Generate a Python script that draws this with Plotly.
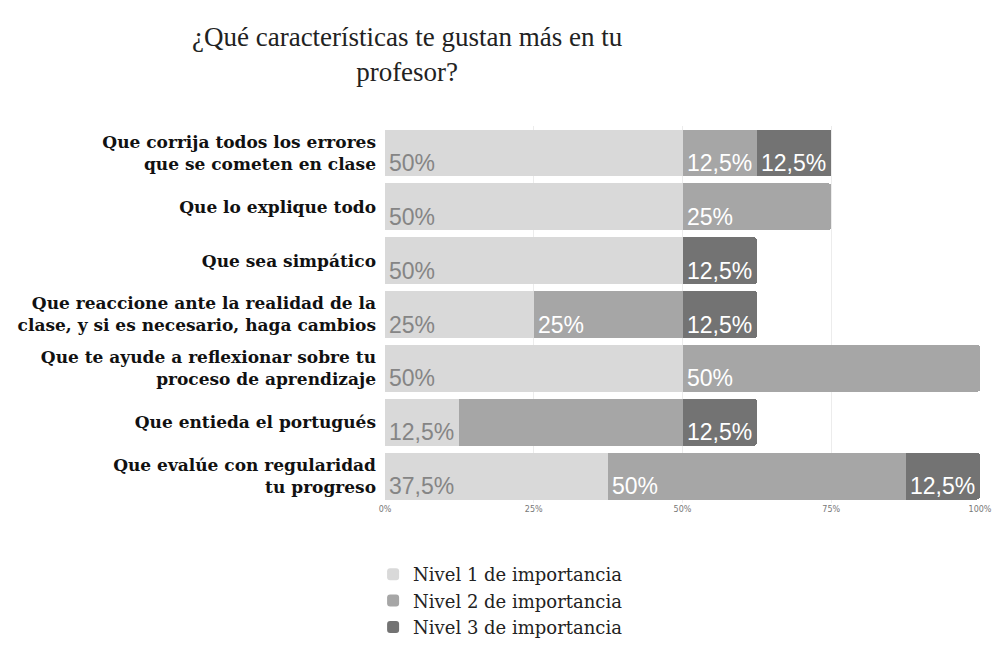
import plotly.graph_objects as go

categories = [
    "Que corrija todos los errores<br>que se cometen en clase",
    "Que lo explique todo",
    "Que sea simpático",
    "Que reaccione ante la realidad de la<br>clase, y si es necesario, haga cambios",
    "Que te ayude a reflexionar sobre tu<br>proceso de aprendizaje",
    "Que entieda el portugués",
    "Que evalúe con regularidad<br>tu progreso",
]
nivel1 = [50, 50, 50, 25, 50, 12.5, 37.5]
nivel2 = [12.5, 25, 0, 25, 50, 37.5, 50]
nivel3 = [12.5, 0, 12.5, 12.5, 0, 12.5, 12.5]
labels1 = ["50%", "50%", "50%", "25%", "50%", "12,5%", "37,5%"]
labels2 = ["12,5%", "25%", "", "25%", "50%", "", "50%"]
labels3 = ["12,5%", "", "12,5%", "12,5%", "", "12,5%", "12,5%"]
series_names = ["Nivel 1 de importancia", "Nivel 2 de importancia", "Nivel 3 de importancia"]
tick_vals = [0, 25, 50, 75, 100]
tick_text = ["0%", "25%", "50%", "75%", "100%"]
title_text = "¿Qué características te gustan más en tu<br>profesor?"

colors = ["#d9d9d9", "#a6a6a6", "#737373"]
label_colors = ["#858585", "#ffffff", "#ffffff"]
LABEL_FONT = "Liberation Sans Narrow, Liberation Sans, Arial, sans-serif"

fig = go.Figure()
series = [nivel1, nivel2, nivel3]
labels = [labels1, labels2, labels3]
for name, vals, col in zip(series_names, series, colors):
    fig.add_trace(go.Bar(
        y=categories, x=vals, orientation="h", name=name,
        marker=dict(color=col, line=dict(width=0)),
        hoverinfo="skip",
    ))

annotations = []
for i, cat in enumerate(categories):
    start = 0
    for s in range(3):
        v = series[s][i]
        t = labels[s][i]
        if v > 0 and t:
            annotations.append(dict(
                x=start, y=cat, xref="x", yref="y", text=t, showarrow=False,
                xanchor="left", yanchor="middle", xshift=2, yshift=-10,
                font=dict(family=LABEL_FONT, size=23, color=label_colors[s]),
            ))
        start += v

fig.update_layout(
    width=993, height=645,
    barmode="stack", bargap=0.13, barcornerradius=3,
    paper_bgcolor="white", plot_bgcolor="white",
    margin=dict(l=385, r=13, t=126, b=142, autoexpand=False),
    title=dict(text=title_text, x=0.41, xref="container", xanchor="center",
               y=1 - 46 / 645, yanchor="top",
               font=dict(family="Liberation Serif, serif", size=27, color="#222222")),
    xaxis=dict(range=[0, 100], tickvals=tick_vals, ticktext=tick_text,
               showgrid=True, gridcolor="#ececec", gridwidth=1, zeroline=False,
               tickfont=dict(family="DejaVu Sans, sans-serif", size=8, color="#777777"),
               ticks="", showline=False, fixedrange=True, automargin=False),
    yaxis=dict(autorange="reversed", ticks="", ticklabelstandoff=8, automargin=False,
               tickfont=dict(family="DejaVu Serif, serif", size=17, color="#111111", weight="bold"),
               showline=False, showgrid=False),
    legend=dict(orientation="v", traceorder="normal", x=-0.02, xanchor="left",
                yref="container", y=1 - 556 / 645, yanchor="top",
                font=dict(family="DejaVu Serif, serif", size=18, color="#222222"),
                itemwidth=30, tracegroupgap=0),
    annotations=annotations,
    showlegend=True,
)

fig.write_html("out.html")
